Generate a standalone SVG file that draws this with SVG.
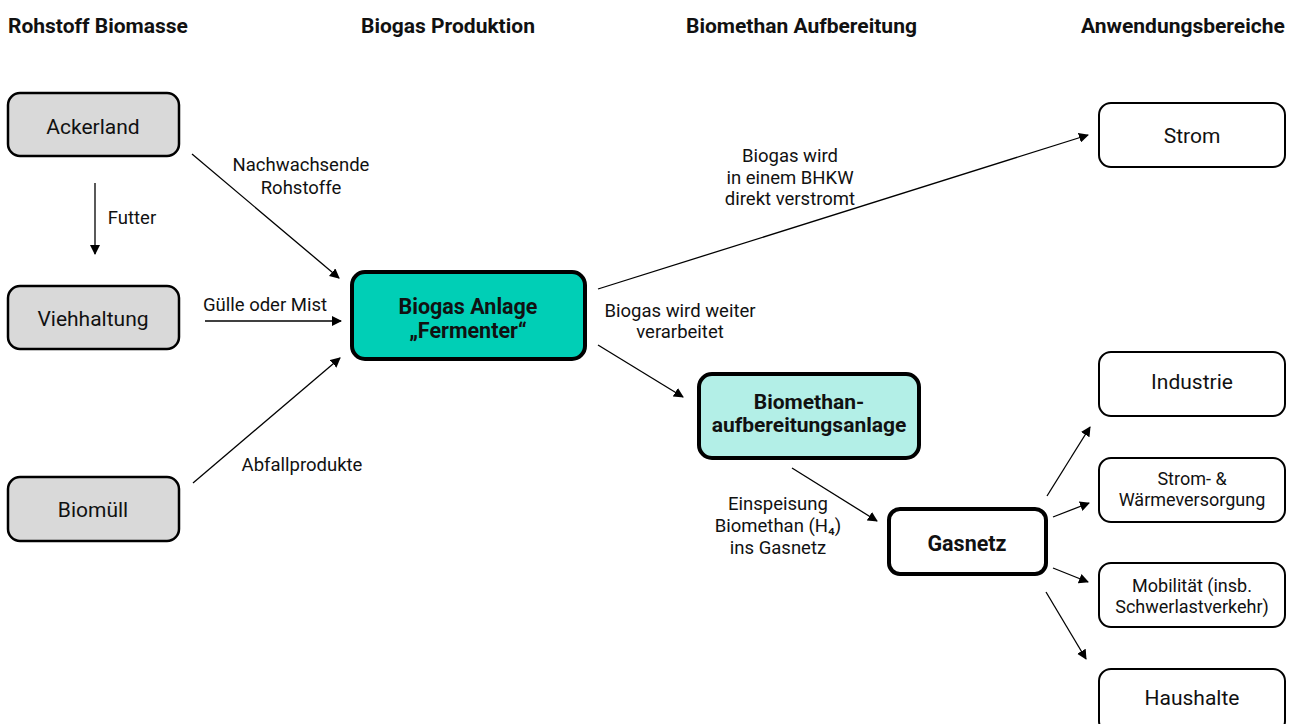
<svg xmlns="http://www.w3.org/2000/svg" width="1299" height="724" viewBox="0 0 1299 724">
<defs>
<marker id="ah" viewBox="0 0 10 10" refX="9" refY="5" markerWidth="10" markerHeight="10" markerUnits="userSpaceOnUse" orient="auto">
<path d="M0,0 L10,5 L0,10 Z" fill="#000"/>
</marker>
<style>
text{font-family:Roboto,"Liberation Sans",sans-serif;fill:#111;text-anchor:middle}
.h{font-weight:bold;font-size:21px;text-anchor:start}
.lbl{font-size:18.5px}
.n{font-size:21px}
.ns{font-size:18px}
.b{font-weight:bold;font-size:21.5px}
.b2{font-weight:bold;font-size:21px}
.grey{fill:#d9d9d9;stroke:#000;stroke-width:2.5}
.white{fill:#fff;stroke:#000;stroke-width:2}
.conn line{stroke:#000;stroke-width:1.3;marker-end:url(#ah)}
</style>
</defs>
<rect width="1299" height="724" fill="#fff"/>
<g id="headers">
<text class="h" x="8" y="32.5">Rohstoff Biomasse</text>
<text class="h" x="361" y="32.5">Biogas Produktion</text>
<text class="h" x="686" y="32.5">Biomethan Aufbereitung</text>
<text class="h" x="1081" y="32.5">Anwendungsbereiche</text>
</g>
<g id="ackerland"><rect class="grey" x="8" y="93" width="171" height="63" rx="12"/><text class="n" x="93" y="133.5">Ackerland</text></g>
<g id="viehhaltung"><rect class="grey" x="8" y="286" width="171" height="63" rx="12"/><text class="n" x="93" y="325.5">Viehhaltung</text></g>
<g id="biomuell"><rect class="grey" x="8" y="477" width="171" height="64" rx="12"/><text class="n" x="93" y="516.5">Biomüll</text></g>
<g id="biogasanlage"><rect x="352" y="272" width="233" height="87" rx="13" fill="#00cfb6" stroke="#000" stroke-width="4"/><text class="b" x="468" y="314">Biogas Anlage</text><text class="b" x="468" y="338">„Fermenter“</text></g>
<g id="biomethan"><rect x="699" y="374" width="220" height="84" rx="13" fill="#b3efe7" stroke="#000" stroke-width="4"/><text class="b2" x="809" y="409">Biomethan-</text><text class="b2" x="809" y="432">aufbereitungsanlage</text></g>
<g id="gasnetz"><rect x="889" y="509" width="157" height="65" rx="11" fill="#fff" stroke="#000" stroke-width="4"/><text class="b" x="967" y="550.5">Gasnetz</text></g>
<g id="strom"><rect class="white" x="1099" y="103" width="186" height="64" rx="12"/><text class="n" x="1192" y="142.5">Strom</text></g>
<g id="industrie"><rect class="white" x="1099" y="352" width="186" height="64" rx="12"/><text class="n" x="1192" y="388.5">Industrie</text></g>
<g id="waerme"><rect class="white" x="1099" y="458" width="186" height="64" rx="12"/><text class="ns" x="1192" y="484.5">Strom- &amp;</text><text class="ns" x="1192" y="505.5">Wärmeversorgung</text></g>
<g id="mobilitaet"><rect class="white" x="1099" y="563" width="186" height="64" rx="12"/><text class="ns" x="1192" y="591.5">Mobilität (insb.</text><text class="ns" x="1192" y="612.5">Schwerlastverkehr)</text></g>
<g id="haushalte"><rect class="white" x="1099" y="669" width="186" height="64" rx="12"/><text class="n" x="1192" y="704.5">Haushalte</text></g>
<g id="connectors" class="conn">
<line x1="95" y1="183" x2="95" y2="254"/>
<line x1="192" y1="154" x2="339" y2="278"/>
<line x1="205" y1="321" x2="341" y2="321"/>
<line x1="193" y1="483" x2="340" y2="358"/>
<line x1="598" y1="289" x2="1088" y2="135"/>
<line x1="598" y1="345" x2="683" y2="397"/>
<line x1="792" y1="468" x2="877" y2="521"/>
<line x1="1047" y1="496" x2="1090" y2="427"/>
<line x1="1053" y1="517" x2="1089" y2="503"/>
<line x1="1053" y1="568" x2="1088" y2="582"/>
<line x1="1046" y1="592" x2="1086" y2="659"/>
</g>
<g id="labels">
<text class="lbl" x="132" y="223.5">Futter</text>
<text class="lbl" x="301" y="170.5">Nachwachsende</text>
<text class="lbl" x="301" y="193.5">Rohstoffe</text>
<text class="lbl" x="265" y="310.5">Gülle oder Mist</text>
<text class="lbl" x="302" y="470.5">Abfallprodukte</text>
<text class="lbl" x="790" y="161.5">Biogas wird</text>
<text class="lbl" x="790" y="183.5">in einem BHKW</text>
<text class="lbl" x="790" y="204.5">direkt verstromt</text>
<text class="lbl" x="680" y="316.5">Biogas wird weiter</text>
<text class="lbl" x="680" y="337.5">verarbeitet</text>
<text class="lbl" x="778" y="509.5">Einspeisung</text>
<text class="lbl" x="778" y="531.5">Biomethan (H₄)</text>
<text class="lbl" x="778" y="553.5">ins Gasnetz</text>
</g>
</svg>
